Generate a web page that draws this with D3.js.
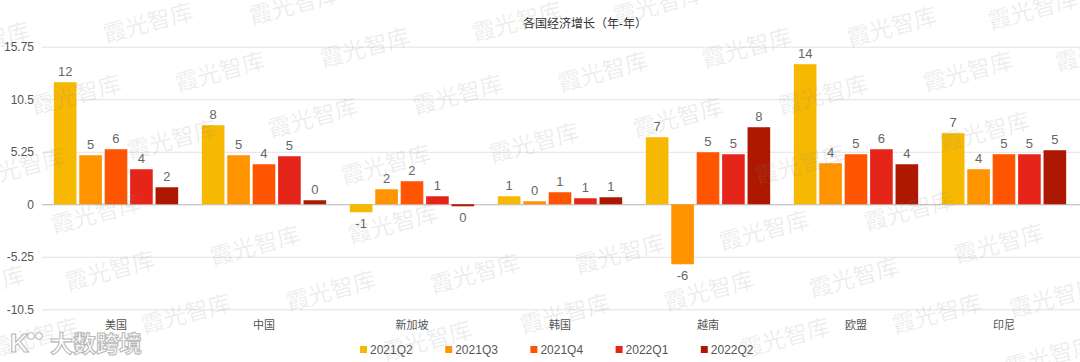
<!DOCTYPE html>
<html>
<head>
<meta charset="utf-8">
<script src="https://cdn.jsdelivr.net/npm/d3@7/dist/d3.min.js"></script>
<style>
  html, body { margin: 0; padding: 0; background: #fff; }
  svg { display: block; font-family: "Liberation Sans", "Noto Sans CJK SC", sans-serif; }
</style>
</head>
<body>
<svg id="chart" width="1080" height="362"></svg>
<script>
/* global d3 */

const countries = ['美国', '中国', '新加坡', '韩国', '越南', '欧盟', '印尼'];
const quarters = ['2021Q2', '2021Q3', '2021Q4', '2022Q1', '2022Q2'];

const q2021Q2 = [12.2, 7.9, -0.8, 0.8, 6.7, 14.0, 7.1];
const q2021Q3 = [4.9, 4.9, 1.5, 0.3, -6.0, 4.1, 3.5];
const q2021Q4 = [5.5, 4.0, 2.3, 1.2, 5.2, 5.0, 5.0];
const q2022Q1 = [3.5, 4.8, 0.8, 0.6, 5.0, 5.5, 5.0];
const q2022Q2 = [1.7, 0.4, -0.2, 0.7, 7.7, 4.0, 5.4];

const yTicks = [15.75, 10.5, 5.25, 0, -5.25, -10.5];
const colors = ['#f6b800', '#ff9300', '#ff5500', '#e5251a', '#ae1800'];

const title = '各国经济增长（年-年）';

// watermark centres
const marks = [
  [148, 23], [294, 5], [517, 22], [658, 5], [892, 27], [1033, 10], [-15, 42],
  [220, 72], [365, 48], [603, 72], [747, 48], [968, 72], [1100, 52],
  [76, 95], [313, 118], [458, 95], [678, 118], [823, 95], [985, 132],
  [172, 140], [534, 143], [386, 165], [800, 165], [20, 168],
  [96, 214], [909, 211], [393, 224], [764, 231], [255, 246], [620, 254],
  [999, 244], [110, 271], [475, 274], [854, 278], [331, 291], [709, 291],
  [1054, 298], [186, 314], [565, 314], [937, 314], [34, 338], [427, 341],
  [785, 338], [1050, 356], [-20, 286]
];

const series = [q2021Q2, q2021Q3, q2021Q4, q2022Q1, q2022Q2];
const rows = countries.map(function (c, i) {
  return { country: c, vals: quarters.map(function (q, k) { return { q: q, k: k, v: series[k][i] }; }) };
});

const W = 1080;
const left = 42, right = 1078;

const svg = d3.select('#chart');

const x0 = d3.scaleBand().domain(countries).range([left, right])
  .paddingInner(0.16).paddingOuter(0.08);
const x1 = d3.scaleBand().domain(quarters).range([0, x0.bandwidth()])
  .paddingInner(0.11);
const y = d3.scaleLinear().domain([-10.5, 15.75]).range([309.3, 46.7]);
const color = d3.scaleOrdinal().domain(quarters).range(colors);

// title
svg.append('text')
  .attr('x', 585).attr('y', 28)
  .attr('text-anchor', 'middle')
  .style('font-size', '12px')
  .style('fill', '#333')
  .text(title);

// grid + y labels
const yAxis = svg.append('g')
  .attr('transform', 'translate(' + left + ',0)')
  .call(d3.axisLeft(y).tickValues(yTicks).tickSize(-(W - left)).tickPadding(8)
    .tickFormat(function (d) { return String(d); }));

yAxis.select('.domain').remove();
yAxis.selectAll('.tick line')
  .attr('stroke', function (d) { return d === 0 ? '#b5b5b5' : '#e2e2e2'; })
  .attr('stroke-width', 1);
yAxis.selectAll('.tick text')
  .style('font-size', '12px')
  .style('fill', '#555')
  .style('font-family', '"Liberation Sans", sans-serif');

// bars
const groups = svg.append('g').selectAll('g')
  .data(rows)
  .join('g')
  .attr('transform', function (d) { return 'translate(' + x0(d.country) + ',0)'; });

groups.selectAll('rect')
  .data(function (d) { return d.vals; })
  .join('rect')
  .attr('x', function (d) { return x1(d.q); })
  .attr('width', x1.bandwidth())
  .attr('y', function (d) { return y(Math.max(0, d.v)); })
  .attr('height', function (d) { return Math.abs(y(d.v) - y(0)); })
  .attr('fill', function (d) { return color(d.q); });

groups.selectAll('text.val')
  .data(function (d) { return d.vals; })
  .join('text')
  .attr('class', 'val')
  .attr('x', function (d) { return x1(d.q) + x1.bandwidth() / 2; })
  .attr('y', function (d) { return d.v >= 0 ? y(d.v) - 6.5 : y(d.v) + 15.5; })
  .attr('text-anchor', 'middle')
  .style('font-size', '13px')
  .style('fill', '#666')
  .text(function (d) { return String(Math.round(d.v)); });

// x labels
const xAxis = svg.append('g')
  .attr('transform', 'translate(0,309.3)')
  .call(d3.axisBottom(x0).tickSize(0).tickPadding(12));
xAxis.select('.domain').remove();
xAxis.selectAll('.tick text')
  .style('font-size', '11px')
  .style('fill', '#555')
  .style('font-family', '"Noto Sans CJK SC", sans-serif');

// legend
const lx = d3.scaleBand().domain(quarters).range([360, 786]);
const legend = svg.append('g').selectAll('g')
  .data(quarters)
  .join('g')
  .attr('transform', function (d) { return 'translate(' + lx(d) + ',349.5)'; });

legend.append('rect')
  .attr('x', 0).attr('y', -3.5)
  .attr('width', 7).attr('height', 7)
  .attr('fill', function (d) { return color(d); });

legend.append('text')
  .attr('x', 10).attr('y', 4.3)
  .style('font-size', '12px')
  .style('fill', '#555')
  .text(function (d) { return d; });

// watermark on top of everything
svg.append('g').selectAll('text')
  .data(marks)
  .join('text')
  .attr('transform', function (d) { return 'translate(' + d[0] + ',' + d[1] + ') rotate(-15)'; })
  .attr('text-anchor', 'middle')
  .attr('dy', '0.35em')
  .style('font-size', '23px')
  .style('font-family', '"Noto Sans CJK SC", sans-serif')
  .style('fill', '#8c8c8c')
  .style('fill-opacity', 0.16)
  .text('霞光智库');

// logo bottom-left
const logo = svg.append('g').attr('transform', 'translate(10,343)');
logo.append('text')
  .attr('x', 0).attr('y', 9)
  .style('font-size', '26px')
  .style('font-weight', 'bold')
  .style('fill', '#fff')
  .style('stroke', '#b9b9b9')
  .style('stroke-width', 1.1)
  .text('K');
logo.selectAll('circle')
  .data([21, 29])
  .join('circle')
  .attr('cx', function (d) { return d; })
  .attr('cy', -7)
  .attr('r', 3.3)
  .attr('fill', '#fff')
  .attr('stroke', '#b9b9b9')
  .attr('stroke-width', 1.1);
logo.append('text')
  .attr('x', 40).attr('y', 9)
  .style('font-size', '23px')
  .style('font-weight', 'bold')
  .style('font-family', '"Noto Sans CJK SC", sans-serif')
  .style('fill', '#fff')
  .style('stroke', '#b9b9b9')
  .style('stroke-width', 1.1)
  .text('大数跨境');
</script>
</body>
</html>
